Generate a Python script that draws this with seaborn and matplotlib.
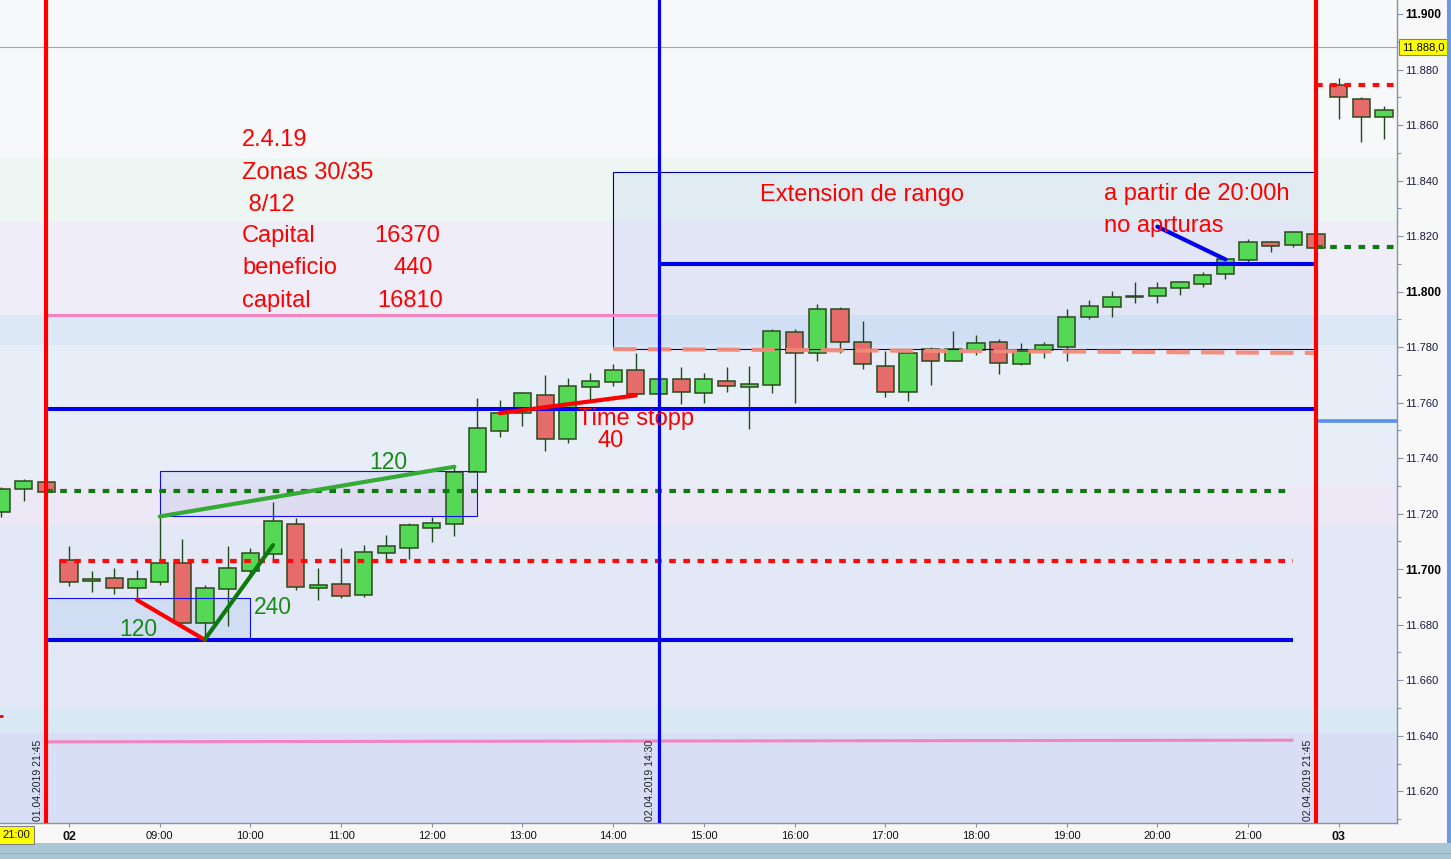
import numpy as np
import pandas as pd
import matplotlib
matplotlib.use("Agg")
import matplotlib.pyplot as plt
import matplotlib.transforms as mtrans
from matplotlib.patches import Rectangle
from matplotlib.ticker import MultipleLocator
import seaborn as sns

# ---------------- data ----------------
bar_idx = list(range(-3, 59))   # 15-min bars, 0 = 02 08:00, gaps collapsed
opens = [11720.6, 11729.0, 11731.3,
         11703.3, 11695.6, 11696.7, 11693.1, 11695.5, 11702.1, 11680.5, 11692.8,
         11699.5, 11705.4, 11716.2, 11693.1, 11694.6, 11690.6, 11705.7, 11707.5,
         11714.7, 11716.2, 11735.1, 11749.7, 11756.2, 11762.6, 11746.8, 11765.7,
         11767.5, 11771.6, 11763.2, 11768.4, 11763.6, 11767.7, 11765.7, 11766.2,
         11785.3, 11777.8, 11793.6, 11781.7, 11773.1, 11763.7, 11779.2, 11775.1,
         11778.9, 11781.7, 11773.8, 11778.9, 11780.2, 11790.7, 11794.3, 11798.0,
         11798.5, 11801.2, 11802.6, 11806.2, 11811.3, 11817.8, 11816.7, 11820.7,
         11874.3, 11869.3, 11862.8]
highs = [11729.5, 11732.5, 11732.0,
         11708.4, 11699.4, 11700.4, 11699.7, 11719.0, 11710.9, 11694.3, 11708.4,
         11707.5, 11724.1, 11718.3, 11700.5, 11707.5, 11708.7, 11712.3, 11716.5,
         11718.9, 11736.9, 11761.6, 11761.0, 11764.0, 11770.0, 11768.8, 11770.6,
         11774.0, 11777.8, 11769.0, 11772.9, 11770.6, 11772.8, 11773.2, 11786.5,
         11786.5, 11795.5, 11794.6, 11789.4, 11778.7, 11779.0, 11780.0, 11785.8,
         11784.4, 11782.9, 11781.4, 11782.0, 11793.7, 11797.0, 11800.3, 11803.4,
         11803.4, 11803.8, 11807.0, 11812.0, 11818.8, 11818.2, 11821.8, 11821.0,
         11877.1, 11870.2, 11866.9]
lows = [11718.8, 11724.7, 11727.5,
        11694.0, 11691.9, 11691.1, 11688.9, 11694.3, 11680.5, 11674.5, 11679.6,
        11698.0, 11703.3, 11692.5, 11689.0, 11689.6, 11690.0, 11702.7, 11703.7,
        11709.9, 11712.1, 11735.0, 11747.7, 11751.7, 11742.7, 11745.6, 11761.0,
        11766.0, 11763.0, 11762.0, 11759.5, 11759.8, 11763.9, 11750.4, 11763.4,
        11759.8, 11775.1, 11777.8, 11772.1, 11762.1, 11760.7, 11766.5, 11775.0,
        11777.2, 11770.4, 11773.5, 11776.2, 11775.1, 11790.2, 11791.0, 11796.0,
        11796.0, 11798.7, 11801.8, 11804.4, 11810.8, 11814.2, 11816.0, 11815.5,
        11862.2, 11854.0, 11855.1]
closes = [11728.9, 11731.7, 11727.9,
          11695.5, 11696.5, 11693.1, 11696.4, 11702.1, 11680.5, 11693.1, 11700.3,
          11705.7, 11717.3, 11693.7, 11694.2, 11690.2, 11706.1, 11708.2, 11715.8,
          11716.5, 11735.1, 11750.8, 11756.2, 11763.4, 11747.0, 11765.9, 11767.7,
          11771.6, 11763.2, 11768.4, 11763.9, 11768.4, 11765.9, 11766.6, 11785.7,
          11777.8, 11793.6, 11781.7, 11773.8, 11763.7, 11777.8, 11775.1, 11779.2,
          11781.4, 11774.2, 11778.7, 11780.7, 11790.7, 11794.7, 11797.9, 11798.3,
          11801.2, 11803.4, 11805.9, 11811.6, 11817.8, 11816.3, 11821.4, 11815.8,
          11870.0, 11863.0, 11865.3]

hour_ticks = [0, 4, 8, 12, 16, 20, 24, 28, 32, 36, 40, 44, 48, 52, 56]
hour_labels = ["02", "09:00", "10:00", "11:00", "12:00", "13:00", "14:00",
               "15:00", "16:00", "17:00", "18:00", "19:00", "20:00", "21:00", "03"]
price_ticks = list(range(11620, 11901, 20))
bold_prices = [11900, 11800, 11700]

# background zones (price edges, top -> bottom) and their tints
band_edges = [11905.0, 11848.1, 11825.1, 11791.6, 11780.8, 11730.0, 11715.9,
              11650.4, 11641.0, 11608.5]
band_colors = ["#f7f8f9", "#eef6f4", "#efeef8", "#dce8f5", "#e8eef7",
               "#ece8f5", "#e2e8f5", "#d8e8f5", "#d8def5"]

# session markers
red_vlines = [-1, 55]
vline_dates = ["01.04.2019 21:45", "02.04.2019 21:45"]
blue_vline = 26
blue_vline_date = "02.04.2019 14:30"

# horizontal levels: (start bar, end bar, price start, price end)
blue_levels = [(-1, 55, 11757.7, 11757.7), (-1, 54, 11674.5, 11674.5),
               (26, 55, 11809.9, 11809.9)]
pink_levels = [(-1, 26, 11791.6, 11791.6), (-1, 54, 11637.8, 11638.4)]
green_dotted = [(-1, 53.75, 11728.2, 11728.2), (55, 58.6, 11816.1, 11816.1)]
red_dotted = [(-0.4, 54, 11703.0, 11703.0), (55, 58.6, 11874.4, 11874.4)]
salmon_dashed = [(24, 55, 11779.3, 11777.9)]
light_blue_level = [(55, 58.6, 11753.4, 11753.4)]

# zones: (bar0, bar1, price0, price1)
zone_low = (-1, 8, 11674.5, 11689.6)
zone_mid = (4, 17.98, 11719.1, 11735.4)
zone_big = (24, 55, 11779.3, 11843.1)

# hand-drawn trend segments
seg_red1 = ([3, 6], [11688.9, 11674.5])
seg_dgreen = ([6, 9], [11674.8, 11708.7])
seg_lgreen = ([4, 17], [11719.0, 11736.9])
seg_red2 = ([19, 25], [11756.2, 11762.6])
seg_blue = ([48, 51], [11823.4, 11811.6])

current_price = 11888.1

# ---------------- style ----------------
sns.set_theme(style="white")
plt.rcParams["font.family"] = ["Liberation Sans", "DejaVu Sans"]

fig = plt.figure(figsize=(14.51, 8.59), dpi=100, facecolor="#f8f8f8")
ax = fig.add_axes([0, 36 / 859, 1397 / 1451, 823 / 859])
ax.set_facecolor("#f7f8f9")
ax.set_xlim(-3.043, 58.57)
ax.set_ylim(11608.57, 11905.04)

# background bands
for top, bot, c in zip(band_edges[:-1], band_edges[1:], band_colors):
    ax.axhspan(bot, top, color=c, lw=0, zorder=0)

ax.axhline(current_price, color="#9aa6bc", lw=0.8, zorder=1)

# zones
def zone(z, fc, ec, lw):
    x0, x1, y0, y1 = z
    ax.add_patch(Rectangle((x0, y0), x1 - x0, y1 - y0, fc=fc, ec="none", zorder=2))
    ax.add_patch(Rectangle((x0, y0), x1 - x0, y1 - y0, fill=False, ec=ec, lw=lw, zorder=6))

zone(zone_low, (0.2, 0.5, 0.9, 0.10), "#1010ee", 0.8)
zone(zone_mid, (0.3, 0.35, 0.85, 0.08), "#1010ee", 0.8)
zone(zone_big, (0.25, 0.45, 0.85, 0.07), "#00008a", 0.8)

# candles
df = pd.DataFrame(dict(bar=bar_idx, open=opens, high=highs, low=lows, close=closes))
df["up"] = df["close"] >= df["open"]
df["bottom"] = df[["open", "close"]].min(axis=1)
df["height"] = (df["close"] - df["open"]).abs().clip(lower=0.5)
ax.vlines(df["bar"], df["low"], df["high"], color="#1f4a1a", lw=1.0, zorder=4)
ax.bar(df["bar"], df["height"], bottom=df["bottom"], width=0.76,
       color=np.where(df["up"], "#55d855", "#e66c6c"), edgecolor="#2a4a1c",
       linewidth=1.1, zorder=5)

# levels
def draw(levels, **kw):
    for x0, x1, y0, y1 in levels:
        ax.plot([x0, x1], [y0, y1], **kw)

draw(blue_levels, color="#0000ee", lw=2.9, zorder=7, solid_capstyle="butt")
draw(pink_levels, color="#f284c0", lw=2.2, zorder=7, solid_capstyle="butt")
draw(green_dotted, color="#107a10", lw=3.0, ls=(0, (1.6, 1.8)), zorder=7)
draw(red_dotted, color="#ff0a0a", lw=3.0, ls=(0, (1.6, 1.8)), zorder=7)
draw(salmon_dashed, color="#f58a7a", lw=3.0, ls=(0, (5.6, 2.7)), zorder=7, alpha=0.95)
draw(light_blue_level, color="#5a8ff0", lw=2.6, zorder=7)
ax.plot([-3.1, -2.95], [11647.1, 11647.1], color="red", lw=2, zorder=7)

# trend segments
ax.plot(*seg_red1, color="#ff0000", lw=3.0, zorder=8, solid_capstyle="round")
ax.plot(*seg_dgreen, color="#0c7a0c", lw=3.0, zorder=8, solid_capstyle="round")
ax.plot(*seg_lgreen, color="#35aa35", lw=3.0, zorder=8, solid_capstyle="round")
ax.plot(*seg_red2, color="#ff0000", lw=3.0, zorder=8, solid_capstyle="round")
ax.plot(*seg_blue, color="#0000ee", lw=3.0, zorder=8, solid_capstyle="round")

# vertical session lines
for v in red_vlines:
    ax.axvline(v, color="#ff0000", lw=3.0, zorder=9)
ax.axvline(blue_vline, color="#0000ee", lw=2.3, zorder=9)

bt = mtrans.blended_transform_factory(ax.transData, ax.transAxes)
for v, d in zip(red_vlines + [blue_vline], vline_dates + [blue_vline_date]):
    ax.text(v - 0.15, 0.002, d, rotation=90, ha="right", va="bottom",
            fontsize=7.5, color="#202020", transform=bt, zorder=10)

# annotations
red = "#ff0000"
fs = 17
for txt, y in zip(["2.4.19", "Zonas 30/35", " 8/12", "Capital", "beneficio", "capital"],
                  [11852.6, 11840.7, 11829.2, 11817.7, 11806.2, 11794.6]):
    ax.text(7.63, y, txt, color=red, fontsize=fs, va="baseline", ha="left", zorder=10)
for txt, x, y in [("16370", 13.45, 11817.7), ("440", 14.33, 11806.2), ("16810", 13.58, 11794.6)]:
    ax.text(x, y, txt, color=red, fontsize=fs, va="baseline", ha="left", zorder=10)
ax.text(30.47, 11832.6, "Extension de rango", color=red, fontsize=fs, va="baseline", zorder=10)
ax.text(45.65, 11833.0, "a partir de 20:00h", color=red, fontsize=fs, va="baseline", zorder=10)
ax.text(45.65, 11821.5, "no aprturas", color=red, fontsize=fs, va="baseline", zorder=10)
ax.text(22.45, 11751.9, "Time stopp", color=red, fontsize=fs, va="baseline", zorder=10)
ax.text(23.33, 11744.0, "40", color=red, fontsize=fs, va="baseline", zorder=10)
green_txt = "#1a8a1a"
ax.text(13.23, 11736.1, "120", color=green_txt, fontsize=16.5, va="baseline", zorder=10)
ax.text(2.2, 11675.9, "120", color=green_txt, fontsize=16.5, va="baseline", zorder=10)
ax.text(8.16, 11683.9, "240", color=green_txt, fontsize=16.5, va="baseline", zorder=10)

# axes / ticks
for s in ["left", "top"]:
    ax.spines[s].set_visible(False)
for s in ["right", "bottom"]:
    ax.spines[s].set_color("#8494a6")
    ax.spines[s].set_linewidth(1.0)

ax.yaxis.tick_right()
ax.set_yticks(price_ticks, [f"{p / 1000:.3f}" for p in price_ticks])
ax.yaxis.set_minor_locator(MultipleLocator(10))
ax.tick_params(axis="y", which="major", direction="out", length=4, width=0.8,
               color="#8494a6", labelsize=8, labelcolor="#1a1a40", pad=2, right=True)
ax.tick_params(axis="y", which="minor", direction="out", length=3, width=0.8,
               color="#8494a6", right=True)
for lbl, p in zip(ax.get_yticklabels(), price_ticks):
    if p in bold_prices:
        lbl.set_fontweight("bold")
        lbl.set_fontsize(8.6)
        lbl.set_color("#000000")

ax.set_xticks(hour_ticks, hour_labels)
ax.tick_params(axis="x", direction="out", length=3, width=0.8, color="#8494a6",
               labelsize=8, labelcolor="#111111", pad=3, bottom=True)
for lbl in ax.get_xticklabels():
    if lbl.get_text() in ("02", "03"):
        lbl.set_fontweight("bold")
        lbl.set_fontsize(9)
ax.grid(False)

# current price tag
at = mtrans.blended_transform_factory(ax.transAxes, ax.transData)
ax.text(1.0037, current_price, f"{current_price / 1000:.3f},0",
        transform=at, ha="left", va="center", fontsize=8, color="#000000",
        bbox=dict(boxstyle="square,pad=0.25", fc="#ffff00", ec="#808080", lw=0.8),
        zorder=11, clip_on=False)

# left time tag
fig.text(2 / 1451, (859 - 835) / 859, "21:00", ha="left", va="center", fontsize=8,
         color="#111111",
         bbox=dict(boxstyle="square,pad=0.35", fc="#ffff00", ec="#808080", lw=0.8))

# frame strips
fig.patches.append(Rectangle((0, 0), 1, 16 / 859, transform=fig.transFigure,
                             fc="#a8c6d4", ec="none", zorder=0))
fig.patches.append(Rectangle((0, 5 / 859), 1, 1.2 / 859, transform=fig.transFigure,
                             fc="#90b0c0", ec="none", zorder=0))
fig.patches.append(Rectangle((1447 / 1451, 16 / 859), 4 / 1451, 843 / 859,
                             transform=fig.transFigure, fc="#6a9ae0", ec="none", zorder=0))

fig.savefig("out.png", dpi=100, facecolor=fig.get_facecolor())
